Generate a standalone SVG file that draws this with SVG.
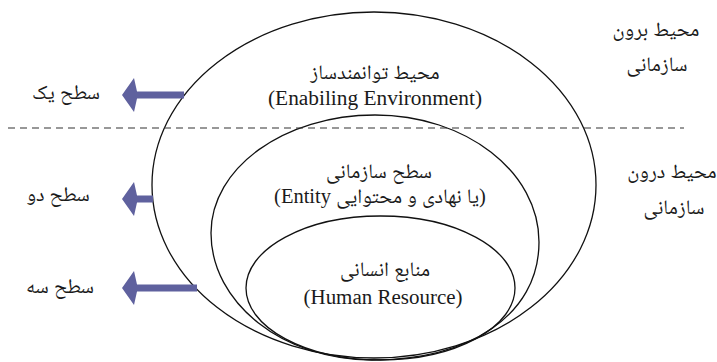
<svg xmlns="http://www.w3.org/2000/svg" width="717" height="362" viewBox="0 0 717 362">
  <style>
    .ring { fill: none; stroke: #111; stroke-width: 1.3; }
    .dash { stroke: #333; stroke-width: 1.2; stroke-dasharray: 7 5; fill: none; }
    .arrow { fill: #5f619e; stroke: none; }
    .fa { font-family: "Liberation Serif", "Times New Roman", "Noto Naskh Arabic", "DejaVu Sans", serif; font-size: 20.5px; fill: #1a1a1a; }
    .en { font-family: "Liberation Serif", "Times New Roman", "DejaVu Serif", serif; font-size: 20px; fill: #1a1a1a; }
  </style>
  <rect width="717" height="362" fill="#fff"/>

  <g id="outer-environment">
    <ellipse class="ring" cx="374" cy="185" rx="222" ry="173"/>
    <text class="fa" x="375" y="79" text-anchor="middle">محیط توانمندساز</text>
    <text class="en" x="375" y="105" text-anchor="middle" textLength="214" lengthAdjust="spacingAndGlyphs">(Enabiling Environment)</text>
  </g>

  <g id="entity-level">
    <path class="ring" d="M375,115 C466,115 539,172 539,242 C539,316 468,360 372,360 C283,360 211,303 211,233 C211,168 284,115 375,115 Z"/>
    <text class="fa" x="379" y="178" text-anchor="middle">سطح سازمانی</text>
    <text class="fa" x="380" y="203" text-anchor="middle" direction="rtl">(یا نهادی و محتوایی Entity)</text>
  </g>

  <g id="human-resource">
    <ellipse class="ring" cx="380.5" cy="288" rx="134.5" ry="72"/>
    <text class="fa" x="385" y="276" text-anchor="middle">منابع انسانی</text>
    <text class="en" x="383" y="304" text-anchor="middle" textLength="159" lengthAdjust="spacingAndGlyphs">(Human Resource)</text>
  </g>

  <g id="divider">
    <line class="dash" x1="8" y1="128" x2="684" y2="128"/>
  </g>

  <g id="labels-outside">
    <text class="fa" x="656" y="36" text-anchor="middle">محیط برون</text>
    <text class="fa" x="657" y="71" text-anchor="middle">سازمانی</text>
    <text class="fa" x="672" y="178" text-anchor="middle">محیط درون</text>
    <text class="fa" x="674" y="214" text-anchor="middle">سازمانی</text>
  </g>

  <g id="level-labels">
    <text class="fa" x="66" y="99" text-anchor="middle">سطح یک</text>
    <text class="fa" x="58" y="201" text-anchor="middle">سطح دو</text>
    <text class="fa" x="60" y="293" text-anchor="middle">سطح سه</text>
  </g>

  <g id="connectors">
    <path class="arrow" d="M122,95 L134,78 L137,91.5 L184,91.5 L184,98.5 L137,98.5 L134,112 Z"/>
    <path class="arrow" d="M122,199 L134,182 L137,195.5 L153,195.5 L153,202.5 L137,202.5 L134,216 Z"/>
    <path class="arrow" d="M122,288 L134,271 L137,284.5 L197,284.5 L197,291.5 L137,291.5 L134,305 Z"/>
  </g>
</svg>
